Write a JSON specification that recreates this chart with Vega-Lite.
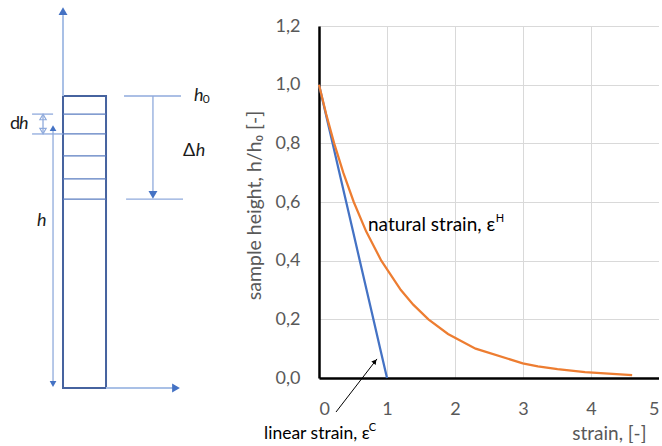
{
  "$schema": "https://vega.github.io/schema/vega-lite/v6.json",
  "padding": {"left": 0, "top": 7, "right": 0, "bottom": 0},
  "spacing": 89,
  "bounds": "flush",
  "config": {
    "view": {"stroke": null},
    "font": "Lato",
    "axis": {"labelFont": "Lato", "titleFont": "Lato", "labelColor": "#595959", "titleColor": "#595959", "labelFontSize": 18, "titleFontSize": 19, "titleFontWeight": "normal"}
  },
  "datasets": {
    "lines": [
      {"x": 0, "y": 1, "x2": 0, "y2": 1.277, "kind": "axis"},
      {"x": 0.1473, "y": 0, "x2": 0.38, "y2": 0, "kind": "axis"},
      {"x": 0, "y": 0.938, "x2": 0.1473, "y2": 0.938, "kind": "inner"},
      {"x": 0, "y": 0.870, "x2": 0.1473, "y2": 0.870, "kind": "inner"},
      {"x": 0, "y": 0.795, "x2": 0.1473, "y2": 0.795, "kind": "inner"},
      {"x": 0, "y": 0.716, "x2": 0.1473, "y2": 0.716, "kind": "inner"},
      {"x": 0, "y": 0.647, "x2": 0.1473, "y2": 0.647, "kind": "inner"},
      {"x": -0.106, "y": 0.938, "x2": -0.034, "y2": 0.938, "kind": "guide"},
      {"x": -0.106, "y": 0.870, "x2": 0, "y2": 0.870, "kind": "guide"},
      {"x": -0.0685, "y": 0.935, "x2": -0.0685, "y2": 0.873, "kind": "guide"},
      {"x": -0.0342, "y": 0.89, "x2": -0.0342, "y2": 0.014, "kind": "guide"},
      {"x": 0.209, "y": 1, "x2": 0.404, "y2": 1, "kind": "guide"},
      {"x": 0.308, "y": 1, "x2": 0.308, "y2": 0.67, "kind": "guide"},
      {"x": 0.216, "y": 0.647, "x2": 0.411, "y2": 0.647, "kind": "guide"}
    ],
    "column": [{"x": 0, "x2": 0.1473, "y": 0, "y2": 1}],
    "heads": [
      {"x": 0, "y": 1.291, "dir": "up", "head": "big"},
      {"x": 0.387, "y": 0, "dir": "right", "head": "big"},
      {"x": 0.308, "y": 0.661, "dir": "down", "head": "big"},
      {"x": -0.0342, "y": 0.890, "dir": "up", "head": "small"},
      {"x": -0.0342, "y": 0.0137, "dir": "down", "head": "small"},
      {"x": -0.0685, "y": 0.928, "dir": "up", "head": "open"},
      {"x": -0.0685, "y": 0.880, "dir": "down", "head": "open"}
    ],
    "sketchText": [
      {"label": "d", "x": -0.1815, "y": 0.887, "style": "upright"},
      {"label": "h", "x": -0.1507, "y": 0.887, "style": "italic"},
      {"label": "h", "x": -0.089, "y": 0.555, "style": "italic"},
      {"label": "h", "x": 0.449, "y": 0.983, "style": "italic"},
      {"label": "0", "x": 0.479, "y": 0.976, "style": "sub"},
      {"label": "Δ", "x": 0.411, "y": 0.795, "style": "upright"},
      {"label": "h", "x": 0.455, "y": 0.795, "style": "italic"}
    ],
    "curves": [
      {"strain": 0, "height": 1.0, "series": "linear"},
      {"strain": 0.1, "height": 0.9, "series": "linear"},
      {"strain": 0.2, "height": 0.8, "series": "linear"},
      {"strain": 0.3, "height": 0.7, "series": "linear"},
      {"strain": 0.4, "height": 0.6, "series": "linear"},
      {"strain": 0.5, "height": 0.5, "series": "linear"},
      {"strain": 0.6, "height": 0.4, "series": "linear"},
      {"strain": 0.7, "height": 0.3, "series": "linear"},
      {"strain": 0.8, "height": 0.2, "series": "linear"},
      {"strain": 0.9, "height": 0.1, "series": "linear"},
      {"strain": 0.99, "height": 0.01, "series": "linear"},
      {"strain": 1.0, "height": 0.0, "series": "linear"},
      {"strain": 0, "height": 1.0, "series": "natural"},
      {"strain": 0.105, "height": 0.9, "series": "natural"},
      {"strain": 0.223, "height": 0.8, "series": "natural"},
      {"strain": 0.357, "height": 0.7, "series": "natural"},
      {"strain": 0.511, "height": 0.6, "series": "natural"},
      {"strain": 0.693, "height": 0.5, "series": "natural"},
      {"strain": 0.916, "height": 0.4, "series": "natural"},
      {"strain": 1.204, "height": 0.3, "series": "natural"},
      {"strain": 1.386, "height": 0.25, "series": "natural"},
      {"strain": 1.609, "height": 0.2, "series": "natural"},
      {"strain": 1.897, "height": 0.15, "series": "natural"},
      {"strain": 2.303, "height": 0.1, "series": "natural"},
      {"strain": 2.996, "height": 0.05, "series": "natural"},
      {"strain": 3.219, "height": 0.04, "series": "natural"},
      {"strain": 3.507, "height": 0.03, "series": "natural"},
      {"strain": 3.912, "height": 0.02, "series": "natural"},
      {"strain": 4.605, "height": 0.01, "series": "natural"}
    ],
    "notes": [
      {"label": "natural strain, ε", "x": 0.72, "y": 0.501, "style": "natural"},
      {"label": "H", "x": 2.6, "y": 0.532, "style": "sup"},
      {"label": "linear strain, ε", "x": -0.808, "y": -0.208, "style": "linear"},
      {"label": "C", "x": 0.73, "y": -0.181, "style": "sup"}
    ],
    "pointer": [{"x": 0.25, "y": -0.116, "x2": 0.853, "y2": 0.065}],
    "pointerHead": [{"x": 0.823, "y": 0.0566}]
  },
  "hconcat": [
    {
      "width": 230,
      "height": 372,
      "encoding": {
        "x": {"field": "x", "type": "quantitative", "scale": {"domain": [-0.2158, 0.5719], "nice": false, "zero": false}, "axis": null},
        "y": {"field": "y", "type": "quantitative", "scale": {"domain": [-0.0342, 1.2397], "nice": false, "zero": false}, "axis": null}
      },
      "layer": [
        {
          "data": {"name": "column"},
          "mark": {"type": "rect", "fill": "#ffffff", "fillOpacity": 0, "stroke": "#46639F", "strokeWidth": 2},
          "encoding": {"x2": {"field": "x2"}, "y2": {"field": "y2"}}
        },
        {
          "data": {"name": "lines"},
          "transform": [{"filter": "datum.kind == 'inner'"}],
          "mark": {"type": "rule", "color": "#5A7DC0", "strokeWidth": 1.3},
          "encoding": {"x2": {"field": "x2"}, "y2": {"field": "y2"}}
        },
        {
          "data": {"name": "lines"},
          "transform": [{"filter": "datum.kind == 'guide'"}],
          "mark": {"type": "rule", "color": "#8FAADC", "strokeWidth": 1.3},
          "encoding": {"x2": {"field": "x2"}, "y2": {"field": "y2"}}
        },
        {
          "data": {"name": "lines"},
          "transform": [{"filter": "datum.kind == 'axis'"}],
          "mark": {"type": "rule", "color": "#A9C0E6", "strokeWidth": 2},
          "encoding": {"x2": {"field": "x2"}, "y2": {"field": "y2"}}
        },
        {
          "data": {"name": "heads"},
          "transform": [{"filter": "datum.head == 'big'"}],
          "mark": {"type": "point", "filled": true, "size": 80, "color": "#4472C4", "opacity": 1},
          "encoding": {"shape": {"field": "dir", "type": "nominal", "scale": {"domain": ["up", "down", "right"], "range": ["triangle-up", "triangle-down", "triangle-right"]}, "legend": null}}
        },
        {
          "data": {"name": "heads"},
          "transform": [{"filter": "datum.head == 'small'"}],
          "mark": {"type": "point", "filled": true, "size": 45, "color": "#4472C4", "opacity": 1},
          "encoding": {"shape": {"field": "dir", "type": "nominal", "scale": {"domain": ["up", "down", "right"], "range": ["triangle-up", "triangle-down", "triangle-right"]}, "legend": null}}
        },
        {
          "data": {"name": "heads"},
          "transform": [{"filter": "datum.head == 'open'"}],
          "mark": {"type": "point", "filled": false, "size": 40, "color": "#8FAADC", "strokeWidth": 1.2, "opacity": 1},
          "encoding": {"shape": {"field": "dir", "type": "nominal", "scale": {"domain": ["up", "down"], "range": ["M-1,0.5L0,-0.5L1,0.5", "M-1,-0.5L0,0.5L1,-0.5"]}, "legend": null}}
        },
        {
          "data": {"name": "sketchText"},
          "transform": [{"filter": "datum.style == 'upright'"}],
          "mark": {"type": "text", "align": "left", "baseline": "alphabetic", "fontSize": 18, "color": "#1a1a1a"},
          "encoding": {"text": {"field": "label"}}
        },
        {
          "data": {"name": "sketchText"},
          "transform": [{"filter": "datum.style == 'italic'"}],
          "mark": {"type": "text", "align": "left", "baseline": "alphabetic", "fontSize": 18, "fontStyle": "italic", "color": "#1a1a1a"},
          "encoding": {"text": {"field": "label"}}
        },
        {
          "data": {"name": "sketchText"},
          "transform": [{"filter": "datum.style == 'sub'"}],
          "mark": {"type": "text", "align": "left", "baseline": "alphabetic", "fontSize": 12, "color": "#1a1a1a"},
          "encoding": {"text": {"field": "label"}}
        }
      ]
    },
    {
      "width": 340,
      "height": 352,
      "layer": [
        {
          "data": {"name": "curves"},
          "mark": {"type": "line", "strokeWidth": 2.25},
          "encoding": {
            "x": {"field": "strain", "type": "quantitative", "scale": {"domain": [0, 5], "nice": false, "zero": false},
              "axis": {"values": [0, 1, 2, 3, 4, 5], "format": "d", "ticks": false, "labelPadding": 22, "domainColor": "#000000", "domainWidth": 2.5, "gridColor": "#D9D9D9", "gridWidth": 1, "title": "strain, [-]", "titleAlign": "right", "titleAnchor": null, "titleX": 327, "titleY": 61, "titleBaseline": "alphabetic"}},
            "y": {"field": "height", "type": "quantitative", "scale": {"domain": [0, 1.2], "nice": false, "zero": false},
              "axis": {"values": [0, 0.2, 0.4, 0.6, 0.8, 1.0, 1.2], "labelExpr": "replace(format(datum.value, '.1f'), '.', ',')", "ticks": false, "labelPadding": 19, "domainColor": "#000000", "domainWidth": 2.5, "gridColor": "#D9D9D9", "gridWidth": 1, "title": "sample height, h/h₀  [-]", "titleFontSize": 19.5, "titleAngle": -90, "titleAlign": "center", "titleBaseline": "middle", "titleX": -65, "titleY": 179}},
            "color": {"field": "series", "type": "nominal", "scale": {"domain": ["linear", "natural"], "range": ["#4472C4", "#ED7D31"]}, "legend": null}
          }
        },
        {
          "data": {"name": "pointer"},
          "mark": {"type": "rule", "color": "#000000", "strokeWidth": 1},
          "encoding": {
            "x": {"field": "x", "type": "quantitative"},
            "y": {"field": "y", "type": "quantitative"},
            "x2": {"field": "x2"},
            "y2": {"field": "y2"}
          }
        },
        {
          "data": {"name": "pointerHead"},
          "mark": {"type": "point", "shape": "triangle-up", "filled": true, "size": 30, "angle": 37.7, "color": "#000000", "opacity": 1},
          "encoding": {
            "x": {"field": "x", "type": "quantitative"},
            "y": {"field": "y", "type": "quantitative"}
          }
        },
        {
          "data": {"name": "notes"},
          "transform": [{"filter": "datum.style == 'natural'"}],
          "mark": {"type": "text", "align": "left", "baseline": "alphabetic", "fontSize": 19, "color": "#000000"},
          "encoding": {
            "x": {"field": "x", "type": "quantitative"},
            "y": {"field": "y", "type": "quantitative"},
            "text": {"field": "label"}
          }
        },
        {
          "data": {"name": "notes"},
          "transform": [{"filter": "datum.style == 'linear'"}],
          "mark": {"type": "text", "align": "left", "baseline": "alphabetic", "fontSize": 17.5, "color": "#000000"},
          "encoding": {
            "x": {"field": "x", "type": "quantitative"},
            "y": {"field": "y", "type": "quantitative"},
            "text": {"field": "label"}
          }
        },
        {
          "data": {"name": "notes"},
          "transform": [{"filter": "datum.style == 'sup'"}],
          "mark": {"type": "text", "align": "left", "baseline": "alphabetic", "fontSize": 11, "color": "#000000"},
          "encoding": {
            "x": {"field": "x", "type": "quantitative"},
            "y": {"field": "y", "type": "quantitative"},
            "text": {"field": "label"}
          }
        }
      ]
    }
  ]
}
